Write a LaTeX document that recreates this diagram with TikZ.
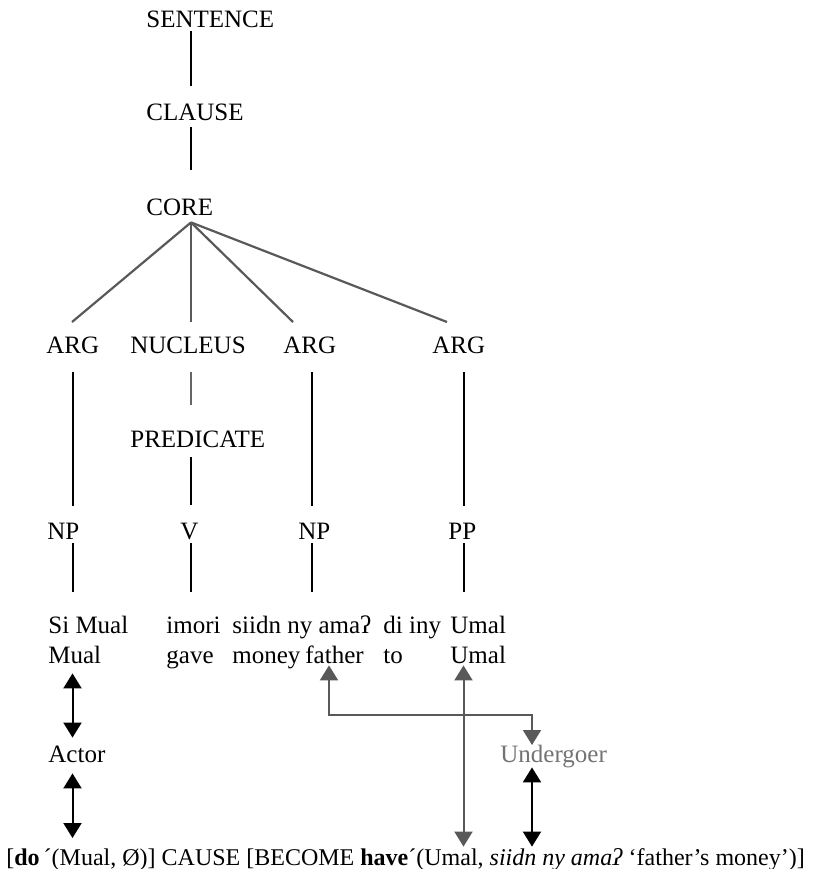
\documentclass[tikz,border=0pt]{standalone}
\usepackage{fontspec}
\setmainfont{Liberation Serif}
\usetikzlibrary{arrows.meta, calc}

\begin{document}
\begin{tikzpicture}[
  x=0.5pt, y=-0.5pt,
  word/.style={inner sep=0, anchor=base west, text height=8.3pt, text depth=0pt, font=\fontsize{12.5pt}{15pt}\selectfont},
  branch/.style={line width=1pt},
  fan/.style={line width=1.1pt, black!65},
  link/.style={<->, >={Triangle[width=9pt,length=7.5pt]}, line width=1pt},
  glink/.style={link, black!65},
  ]

  \useasboundingbox (0,0) rectangle (815,869);

  % columns of the tree
  \coordinate (colA) at (72.5,0);
  \coordinate (colM) at (191,0);
  \coordinate (colB) at (311.5,0);
  \coordinate (colC) at (463.5,0);
  \coordinate (colF) at (329,0);
  \coordinate (colU) at (532,0);

  % Layers
  \node[word] (sentence) at (146,27) {SENTENCE};
  \node[word] (clause) at (146,120) {CLAUSE};
  \node[word] (core) at (146,215) {CORE};
  \node[word] (arg1) at (46,353) {ARG};
  \node[word] (nucleus) at (130,353) {NUCLEUS};
  \node[word] (arg2) at (283,353) {ARG};
  \node[word] (arg3) at (432,353) {ARG};
  \node[word] (predicate) at (130,447) {PREDICATE};
  \node[word] (np1) at (47,539) {NP};
  \node[word] (v) at (180,539) {V};
  \node[word] (np2) at (298,539) {NP};
  \node[word] (pp) at (448,539) {PP};

  % Words and glosses
  \node[word] (si) at (48,633) {Si Mual};
  \node[word] (imori) at (166,633) {imori};
  \node[word] (siidn) at (232,633) {siidn ny amaʔ};
  \node[word] (diiny) at (383,633) {di iny};
  \node[word] (umal) at (450,633) {Umal};
  \node[word] (mual) at (48,663) {Mual};
  \node[word] (gave) at (166,663) {gave};
  \node[word] (money) at (232,663) {money};
  \node[word] (father) at (305,663) {father};
  \node[word] (to) at (383,663) {to};
  \node[word] (umal2) at (450,663) {Umal};

  % Macroroles and logical structure
  \node[word] (actor) at (48,762) {Actor};
  \node[word, text=black!55] (undergoer) at (500,762) {Undergoer};
  \node[word, font=\fontsize{12pt}{15pt}\selectfont] (lsr) at (6,865) {[\textbf{do}\,´(Mual, Ø)] CAUSE [BECOME \textbf{have}´(Umal, \textit{siidn ny amaʔ} ‘father’s money’)]};

  % Tree
  \draw[branch, shorten <=2pt, shorten >=8.5pt] (sentence.south -| colM) -- (clause.north -| colM);
  \draw[branch, shorten <=3.5pt, shorten >=14pt] (clause.south -| colM) -- (core.north -| colM);

  \coordinate (fan) at ($(core.south -| colM)+(0,7)$);
  \foreach \t/\dx in {arg1/26, nucleus/61, arg2/10, arg3/15}
    \draw[fan] (fan) -- ($(\t.north west)+(\dx,-14)$);

  \foreach \a/\b/\c in {arg1/np1/colA, arg2/np2/colB, arg3/pp/colC}
    \draw[branch, shorten <=9.5pt, shorten >=8pt] (\a.south -| \c) -- (\b.north -| \c);
  \draw[line width=0.6pt, black!60, shorten <=9.5pt, shorten >=12.5pt] (nucleus.south -| colM) -- (predicate.north -| colM);
  \draw[branch, shorten <=5pt, shorten >=8.5pt] (predicate.south -| colM) -- (v.north -| colM);

  \foreach \a/\b/\c in {np1/si/colA, v/imori/colM, np2/siidn/colB, pp/umal/colC}
    \draw[branch, shorten <=2pt, shorten >=12pt] (\a.south -| \c) -- (\b.north -| \c);

  % Linking arrows
  \draw[link, shorten <=5pt, shorten >=3.7pt] (mual.south -| colA) -- (actor.north -| colA);
  \draw[link, shorten <=5.5pt, shorten >=5pt] (actor.south -| colA) -- (lsr.north -| colA);

  \coordinate (knee) at (532,715);
  \draw[glink, shorten <=1pt] (father.south -| colF) |- (knee) -- (undergoer.north -| colU);
  \draw[glink, shorten <=1pt, shorten >=0.7pt] (umal2.south -| colC) -- (lsr.north -| colC);
  \draw[link, shorten <=2.5pt, shorten >=0.7pt] (undergoer.south -| colU) -- (lsr.north -| colU);

\end{tikzpicture}
\end{document}
